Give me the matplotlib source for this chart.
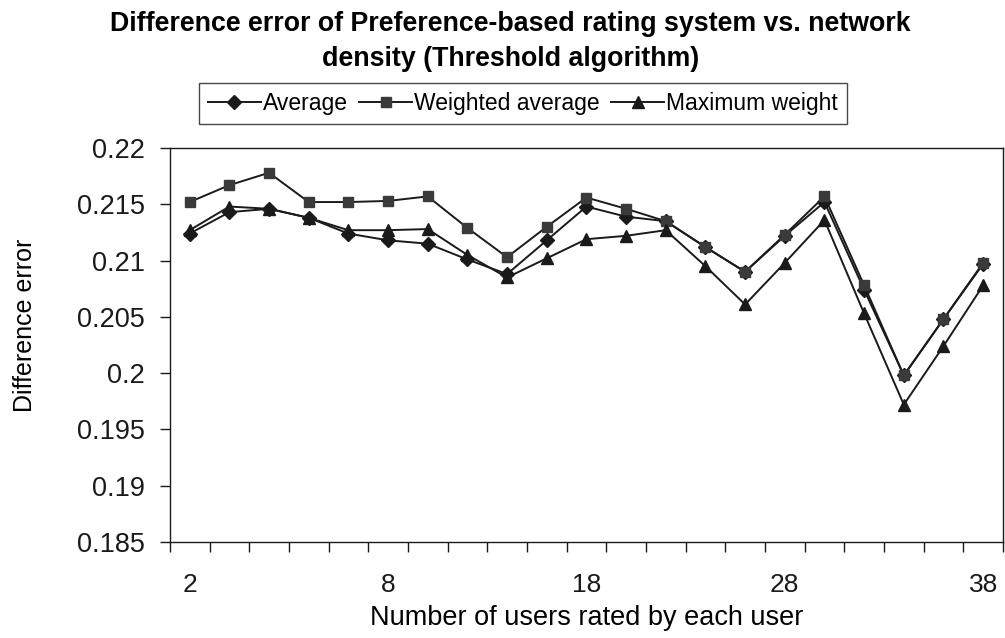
import matplotlib
matplotlib.use("Agg")
import matplotlib.pyplot as plt
import numpy as np

# ── data ───────────────────────────────────────────────────────────────────────
users = [2, 3, 4, 5, 6, 8, 10, 12, 14, 16, 18, 20, 22, 24, 26, 28, 30, 32, 34, 36, 38]
label_every = 5

average = [0.2124, 0.2143, 0.2146, 0.2138, 0.2124, 0.2118, 0.2115, 0.2101, 0.2088, 0.2118,
           0.2148, 0.2139, 0.2135, 0.2112, 0.2090, 0.2122, 0.2152, 0.2074, 0.1998, 0.2048, 0.2097]
weighted_average = [0.2152, 0.2167, 0.2178, 0.2152, 0.2152, 0.2153, 0.2157, 0.2129, 0.2103, 0.2130,
                    0.2156, 0.2146, 0.2135, 0.2112, 0.2090, 0.2123, 0.2157, 0.2078, 0.1998, 0.2048, 0.2098]
maximum_weight = [0.2127, 0.2148, 0.2146, 0.2138, 0.2127, 0.2127, 0.2128, 0.2105, 0.2085, 0.2102,
                  0.2119, 0.2122, 0.2127, 0.2095, 0.2061, 0.2098, 0.2136, 0.2053, 0.1972, 0.2024, 0.2078]

y_ticks = [0.185, 0.19, 0.195, 0.2, 0.205, 0.21, 0.215, 0.22]
y_tick_labels = ["0.185", "0.19", "0.195", "0.2", "0.205", "0.21", "0.215", "0.22"]

# ── style ──────────────────────────────────────────────────────────────────────
plt.rcParams.update({
    "font.family": ["Liberation Sans", "DejaVu Sans"],
    "axes.linewidth": 1.0,
})
INK = "#1a1a1a"

fig = plt.figure(figsize=(10.05, 6.38), dpi=100, facecolor="white")
ax = fig.add_axes([0.169, 0.1505, 0.829, 0.6175])

x = np.arange(len(users))
ax.plot(x, average, color=INK, lw=1.4, marker="D", ms=7, mfc=INK, mec=INK, label="Average")
ax.plot(x, weighted_average, color=INK, lw=1.4, marker="s", ms=7.5, mfc="#3a3a3a", mec="#3a3a3a",
        label="Weighted average")
ax.plot(x, maximum_weight, color=INK, lw=1.4, marker="^", ms=8.5, mfc=INK, mec=INK,
        label="Maximum weight")

ax.set_xlim(-0.5, len(users) - 0.5)
ax.set_ylim(0.185, 0.22)

# y axis
ax.set_yticks(y_ticks)
ax.set_yticklabels(y_tick_labels, fontsize=19.5)
ax.tick_params(axis="y", direction="out", length=7, width=1, pad=11, colors=INK)

# x axis: ticks between categories, labels on every fifth category
ax.set_xticks(np.arange(-0.5, len(users), 1.0))
ax.set_xticklabels([])
ax.tick_params(axis="x", which="major", direction="out", length=7, width=1, colors=INK)
lab_idx = x[::label_every]
ax.set_xticks(lab_idx, minor=True)
ax.set_xticklabels([str(users[i]) for i in lab_idx], minor=True, fontsize=19)
ax.tick_params(axis="x", which="minor", length=0, pad=22, colors=INK)

for s in ax.spines.values():
    s.set_color(INK)

ax.set_xlabel("Number of users rated by each user", fontsize=19.5, labelpad=6)
ax.set_ylabel("Difference error", fontsize=18)
ax.yaxis.set_label_coords(-0.16, 0.55)

fig.text(0.508, 0.982, "Difference error of Preference-based rating system vs. network\ndensity (Threshold algorithm)",
         ha="center", va="top", fontsize=19.3, fontweight="bold", linespacing=1.45)

leg = ax.legend(loc="lower center", bbox_to_anchor=(0.424, 1.061), ncol=3, fontsize=16.5,
                frameon=True, fancybox=False, edgecolor=INK, handlelength=2.3,
                handletextpad=0.1, columnspacing=0.5, borderpad=0.4, borderaxespad=0.0)
leg.get_frame().set_linewidth(1.0)

fig.savefig("out.png", dpi=100, facecolor="white")
